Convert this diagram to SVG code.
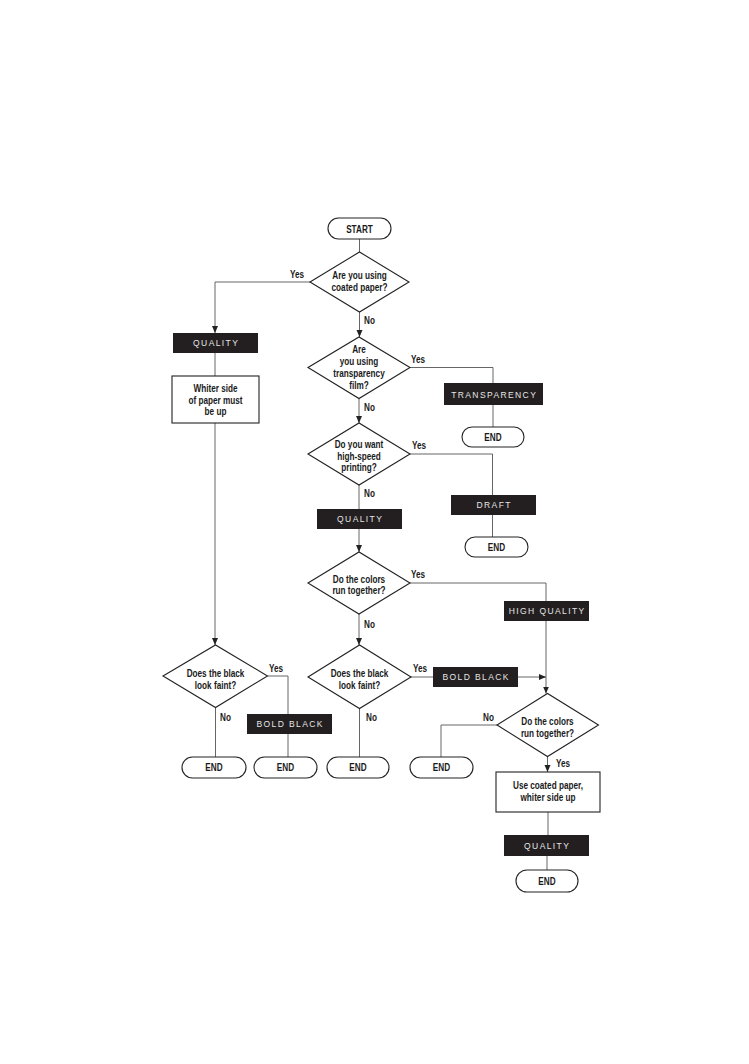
<svg xmlns="http://www.w3.org/2000/svg" width="749" height="1064" viewBox="0 0 749 1064">
<defs>
<marker id="ah" markerWidth="8" markerHeight="8" refX="7" refY="4" orient="auto" markerUnits="userSpaceOnUse">
<path d="M0,1 L7,4 L0,7 Z" fill="#222"/>
</marker>
<style>
.sh{fill:#fff;stroke:#222;stroke-width:1.1}
.bb{fill:#231f20}
.t{font-family:"Liberation Sans",Arial,sans-serif;font-weight:bold;font-size:10.5px;fill:#1a1a1a;text-anchor:middle}
.l{font-family:"Liberation Sans",Arial,sans-serif;font-weight:bold;font-size:10.5px;fill:#1a1a1a}
.w{font-family:"Liberation Sans","DejaVu Sans",sans-serif;font-size:8.5px;fill:#e6e6e6;text-anchor:middle;letter-spacing:1.4px}
.c{fill:none;stroke:#666;stroke-width:1}
.ca{fill:none;stroke:#666;stroke-width:1;marker-end:url(#ah)}
</style>
</defs>
<rect width="749" height="1064" fill="#fff"/>

<g id="connectors">
<path class="c" d="M359.5,239 V252"/>
<path class="ca" d="M310,282 H215 V333"/>
<path class="ca" d="M359.5,312 V337"/>
<path class="c" d="M215,353 V376"/>
<path class="ca" d="M215,423 V645"/>
<path class="c" d="M410,367.5 H493 V383"/>
<path class="c" d="M493,405 V427"/>
<path class="ca" d="M359,398.5 V423"/>
<path class="c" d="M410,454 H492.5 V495"/>
<path class="c" d="M492.5,515 V537"/>
<path class="c" d="M359,485 V509"/>
<path class="ca" d="M359,529 V552"/>
<path class="c" d="M410,583 H546 V601"/>
<path class="ca" d="M546,621 V693.5"/>
<path class="ca" d="M359,614 V645"/>
<path class="c" d="M267.5,676 H288 V714"/>
<path class="c" d="M288,734 V757"/>
<path class="c" d="M215.5,707.5 V757"/>
<path class="c" d="M411,677 H433"/>
<path class="ca" d="M518,677 H546"/>
<path class="c" d="M359.5,708.5 V757"/>
<path class="c" d="M497,725 H441 V757"/>
<path class="ca" d="M547.5,756.5 V772"/>
<path class="c" d="M548,812 V835"/>
<path class="c" d="M547,856 V870"/>
</g>

<g id="labels">
<text class="l" transform="translate(290,278) scale(0.78,1)">Yes</text>
<text class="l" transform="translate(364,324) scale(0.78,1)">No</text>
<text class="l" transform="translate(411,363) scale(0.78,1)">Yes</text>
<text class="l" transform="translate(364,411) scale(0.78,1)">No</text>
<text class="l" transform="translate(412,449) scale(0.78,1)">Yes</text>
<text class="l" transform="translate(364,497) scale(0.78,1)">No</text>
<text class="l" transform="translate(411,578) scale(0.78,1)">Yes</text>
<text class="l" transform="translate(364,628) scale(0.78,1)">No</text>
<text class="l" transform="translate(269,672) scale(0.78,1)">Yes</text>
<text class="l" transform="translate(220,721) scale(0.78,1)">No</text>
<text class="l" transform="translate(413,672) scale(0.78,1)">Yes</text>
<text class="l" transform="translate(366,721) scale(0.78,1)">No</text>
<text class="l" transform="translate(483,721) scale(0.78,1)">No</text>
<text class="l" transform="translate(556,767) scale(0.78,1)">Yes</text>
</g>

<g id="start"><rect class="sh" x="328" y="218" width="63" height="21" rx="10.5"/><text class="t" transform="translate(359.5,232.5) scale(0.78,1)">START</text></g>

<g id="d1"><polygon class="sh" points="310,282 359.5,252 409,282 359.5,312"/>
<text class="t" transform="translate(359.5,279) scale(0.78,1)">Are you using</text><text class="t" transform="translate(359.5,291) scale(0.78,1)">coated paper?</text></g>

<g id="q1"><rect class="bb" x="173" y="333" width="85" height="20"/><text class="w" x="216.2" y="346">QUALITY</text></g>

<g id="whiter"><rect class="sh" x="172" y="376" width="87" height="47"/>
<text class="t" transform="translate(215.5,391.5) scale(0.78,1)">Whiter side</text><text class="t" transform="translate(215.5,403.5) scale(0.78,1)">of paper must</text><text class="t" transform="translate(215.5,415) scale(0.78,1)">be up</text></g>

<g id="d2"><polygon class="sh" points="308,367.5 359,337 410,367.5 359,398.5"/>
<text class="t" transform="translate(359,353) scale(0.78,1)">Are</text><text class="t" transform="translate(359,365) scale(0.78,1)">you using</text><text class="t" transform="translate(359,377) scale(0.78,1)">transparency</text><text class="t" transform="translate(359,389) scale(0.78,1)">film?</text></g>

<g id="transparency"><rect class="bb" x="444" y="383" width="99" height="22"/><text class="w" x="494.2" y="398">TRANSPARENCY</text></g>

<g id="end-t"><rect class="sh" x="462" y="427" width="62" height="20" rx="10"/><text class="t" transform="translate(493,440.5) scale(0.78,1)">END</text></g>

<g id="d3"><polygon class="sh" points="308,454 359,423 410,454 359,485"/>
<text class="t" transform="translate(359,448) scale(0.78,1)">Do you want</text><text class="t" transform="translate(359,459.5) scale(0.78,1)">high-speed</text><text class="t" transform="translate(359,471) scale(0.78,1)">printing?</text></g>

<g id="draft"><rect class="bb" x="451" y="495" width="85" height="20"/><text class="w" x="494.2" y="508">DRAFT</text></g>

<g id="end-d"><rect class="sh" x="465" y="537" width="63" height="20" rx="10"/><text class="t" transform="translate(496.5,550.5) scale(0.78,1)">END</text></g>

<g id="q2"><rect class="bb" x="317" y="509" width="85" height="20"/><text class="w" x="360.2" y="522">QUALITY</text></g>

<g id="d4"><polygon class="sh" points="308,583 359,552 410,583 359,614"/>
<text class="t" transform="translate(359,582.5) scale(0.78,1)">Do the colors</text><text class="t" transform="translate(359,594) scale(0.78,1)">run together?</text></g>

<g id="hq"><rect class="bb" x="504" y="601" width="85" height="20"/><text class="w" x="547.2" y="614">HIGH QUALITY</text></g>

<g id="d5"><polygon class="sh" points="163,676 215.5,645 267.5,676 215.5,707.5"/>
<text class="t" transform="translate(215.5,677) scale(0.78,1)">Does the black</text><text class="t" transform="translate(215.5,689) scale(0.78,1)">look faint?</text></g>

<g id="bb1"><rect class="bb" x="247" y="714" width="85" height="20"/><text class="w" x="290.2" y="727">BOLD BLACK</text></g>

<g id="d6"><polygon class="sh" points="308,677 359.5,645 411,677 359.5,708.5"/>
<text class="t" transform="translate(359.5,677) scale(0.78,1)">Does the black</text><text class="t" transform="translate(359.5,689) scale(0.78,1)">look faint?</text></g>

<g id="bb2"><rect class="bb" x="433" y="667" width="85" height="20"/><text class="w" x="476.2" y="680">BOLD BLACK</text></g>

<g id="d7"><polygon class="sh" points="497,725 547.5,693.5 598.5,725 547.5,756.5"/>
<text class="t" transform="translate(547.5,725) scale(0.78,1)">Do the colors</text><text class="t" transform="translate(547.5,737) scale(0.78,1)">run together?</text></g>

<g id="end1"><rect class="sh" x="182" y="757" width="64" height="21" rx="10.5"/><text class="t" transform="translate(214,771) scale(0.78,1)">END</text></g>
<g id="end2"><rect class="sh" x="254" y="757" width="63" height="21" rx="10.5"/><text class="t" transform="translate(285.5,771) scale(0.78,1)">END</text></g>
<g id="end3"><rect class="sh" x="327" y="757" width="62" height="21" rx="10.5"/><text class="t" transform="translate(358,771) scale(0.78,1)">END</text></g>
<g id="end4"><rect class="sh" x="410" y="757" width="63" height="21" rx="10.5"/><text class="t" transform="translate(441.5,771) scale(0.78,1)">END</text></g>

<g id="usecoated"><rect class="sh" x="496" y="772" width="104" height="40"/>
<text class="t" transform="translate(548,789) scale(0.78,1)">Use coated paper,</text><text class="t" transform="translate(548,801) scale(0.78,1)">whiter side up</text></g>

<g id="q3"><rect class="bb" x="504" y="835" width="85" height="21"/><text class="w" x="547.2" y="848.5">QUALITY</text></g>

<g id="end5"><rect class="sh" x="516" y="870" width="62" height="22" rx="11"/><text class="t" transform="translate(547,884.5) scale(0.78,1)">END</text></g>
</svg>
